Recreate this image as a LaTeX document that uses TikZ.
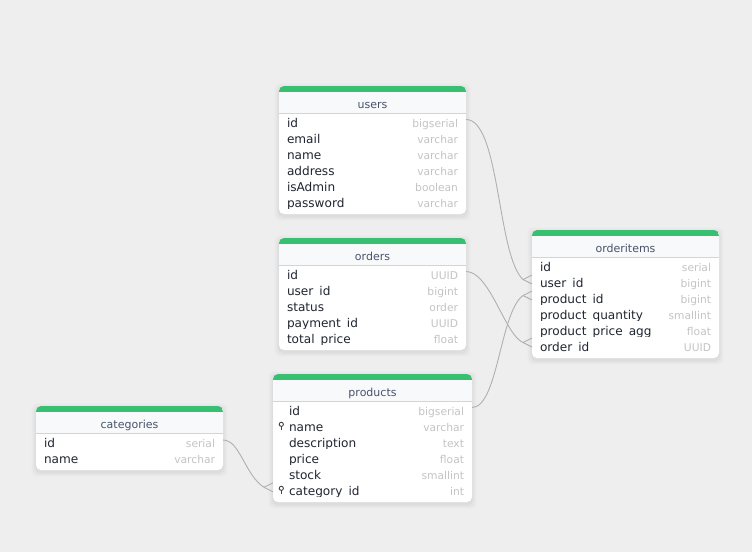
\documentclass[tikz,border=0pt]{standalone}
\usepackage{fontspec}
\setmainfont{DejaVu Sans}
\definecolor{bgc}{HTML}{EEEEEE}
\definecolor{greenc}{HTML}{38BF71}
\definecolor{headc}{HTML}{F7F9FB}
\definecolor{sepc}{HTML}{CDD5E0}
\definecolor{namec}{HTML}{1F2530}
\definecolor{typec}{HTML}{C4C4C4}
\definecolor{titlec}{HTML}{48536A}
\definecolor{linkc}{HTML}{B0B0B0}
\tikzset{
  rowbox/.style={inner sep=0pt,outer sep=0pt,minimum height=16pt},
  fieldname/.style={anchor=base west,inner sep=0pt,outer sep=0pt,text=namec,font=\fontsize{12.1pt}{14pt}\selectfont},
  fieldtype/.style={anchor=base east,inner sep=0pt,outer sep=0pt,text=typec,font=\fontsize{10.7pt}{13pt}\selectfont},
  tabletitle/.style={anchor=base,inner sep=0pt,outer sep=0pt,text=titlec,font=\fontsize{11pt}{13pt}\selectfont},
  tablebox/.style={anchor=north west,inner sep=0pt,outer sep=0pt,fill=white,rounded corners=5pt},
  link/.style={draw=linkc,line width=0.9pt},
  keyicon/.style={draw=namec!85,line width=0.9pt}
}
% name, x, y, w, h, title
\newcommand{\dbtable}[6]{
  \foreach \s/\o in {5/0.008,4/0.01,3/0.012,2/0.016,1/0.02}{
    \fill[black,opacity=\o,rounded corners=5pt] (#2-\s,#3+2-\s) rectangle (#2+#4+\s,#3+#5+2+\s);
  }
  \node[tablebox,minimum width=#4pt,minimum height=#5pt] (#1) at (#2,#3) {};
  \begin{scope}
    \clip[rounded corners=5pt] (#2,#3) rectangle (#2+#4,#3+#5);
    \fill[headc] (#2,#3+6) rectangle (#2+#4,#3+27);
    \fill[greenc] (#2,#3) rectangle (#2+#4,#3+6);
    \draw[sepc,line width=1pt] (#2,#3+27.5) -- (#2+#4,#3+27.5);
  \end{scope}
  \node[tabletitle] (#1-title) at (#2+#4/2,#3+22) {#6};
}
% name, x, w, ycentre, pad, text, type
\newcommand{\dbrow}[7]{
  \node[rowbox,minimum width=#3pt] (#1) at (#2+#3/2,#4) {};
  \begin{scope}
    \clip (#2,#4-8) rectangle (#2+#3,#4+5.4);
    \node[fieldname] (#1-n) at (#2+#5,#4+4.8) {#6};
  \end{scope}
  \node[fieldtype] (#1-t) at (#2+#3-8,#4+4) {#7};
}
% row node, shift of the joint
\newcommand{\crow}[2]{
  \draw[link] ([xshift=-9pt,yshift=#2pt]#1.west) -- ([yshift=#2pt+4.5pt]#1.west);
  \draw[link] ([xshift=-9pt,yshift=#2pt]#1.west) -- ([yshift=#2pt-4.5pt]#1.west);
}
\newcommand{\keyat}[1]{
  \draw[keyicon] ([xshift=8.3pt,yshift=2.7pt]#1.west) circle (2.1pt);
  \draw[keyicon] ([xshift=8.3pt,yshift=0.6pt]#1.west) -- ([xshift=8.3pt,yshift=-3pt]#1.west);
}
\begin{document}
\begin{tikzpicture}[x=1pt,y=-1pt]
\useasboundingbox (0,0) rectangle (752,552);
\fill[bgc] (0,0) rectangle (752,552);

\dbtable{users}{279}{86}{187}{128}{users}
\dbrow{u-id}{279}{187}{123}{8}{id}{bigserial}
\dbrow{u-email}{279}{187}{139}{8}{email}{varchar}
\dbrow{u-name}{279}{187}{155}{8}{name}{varchar}
\dbrow{u-address}{279}{187}{171}{8}{address}{varchar}
\dbrow{u-admin}{279}{187}{187}{8}{isAdmin}{boolean}
\dbrow{u-pass}{279}{187}{203}{8}{password}{varchar}

\dbtable{orders}{279}{238}{187}{112}{orders}
\dbrow{o-id}{279}{187}{275}{8}{id}{UUID}
\dbrow{o-user}{279}{187}{291}{8}{user\_id}{bigint}
\dbrow{o-status}{279}{187}{307}{8}{status}{order}
\dbrow{o-pay}{279}{187}{323}{8}{payment\_id}{UUID}
\dbrow{o-total}{279}{187}{339}{8}{total\_price}{float}

\dbtable{orderitems}{532}{230}{187}{128}{orderitems}
\dbrow{i-id}{532}{187}{267}{8}{id}{serial}
\dbrow{i-user}{532}{187}{283}{8}{user\_id}{bigint}
\dbrow{i-prod}{532}{187}{299}{8}{product\_id}{bigint}
\dbrow{i-qty}{532}{187}{315}{8}{product\_quantity}{smallint}
\dbrow{i-price}{532}{187}{331}{8}{product\_price\_agg}{float}
\dbrow{i-order}{532}{187}{347}{8}{order\_id}{UUID}

\dbtable{products}{273}{374}{199}{128}{products}
\dbrow{p-id}{273}{199}{411}{16}{id}{bigserial}
\dbrow{p-name}{273}{199}{427}{16}{name}{varchar}
\dbrow{p-desc}{273}{199}{443}{16}{description}{text}
\dbrow{p-price}{273}{199}{459}{16}{price}{float}
\dbrow{p-stock}{273}{199}{475}{16}{stock}{smallint}
\dbrow{p-cat}{273}{199}{491}{16}{category\_id}{int}
\keyat{p-name}
\keyat{p-cat}

\dbtable{categories}{36}{406}{187}{64}{categories}
\dbrow{c-id}{36}{187}{443}{8}{id}{serial}
\dbrow{c-name}{36}{187}{459}{8}{name}{varchar}

% connectors
\draw[link] ([yshift=3.5pt]u-id.east) .. controls +(34,0) and +(-26,-24) .. ([xshift=-9pt,yshift=3.5pt]i-user.west);
\crow{i-user}{3.5}
\draw[link] ([yshift=3.5pt]o-id.east) .. controls +(24,0) and +(-18,-7.5) .. ([xshift=-9pt,yshift=4.5pt]i-order.west);
\crow{i-order}{4.5}
\draw[link] ([yshift=3.5pt]p-id.east) .. controls +(26,0) and +(-23,16.5) .. ([xshift=-9pt,yshift=3.5pt]i-prod.west);
\crow{i-prod}{3.5}
\draw[link] ([yshift=3pt]c-id.east) .. controls +(17,0) and +(-19,-12) .. ([xshift=-9pt,yshift=3.7pt]p-cat.west);
\crow{p-cat}{3.7}
\end{tikzpicture}
\end{document}
